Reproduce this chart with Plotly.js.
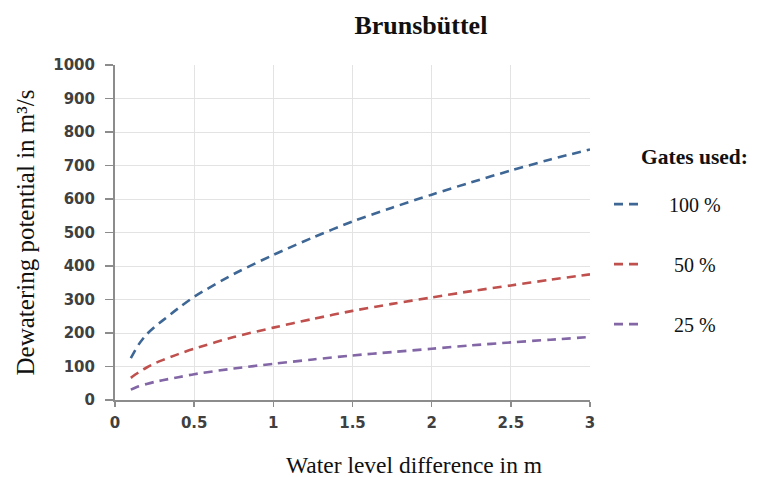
<!DOCTYPE html>
<html>
<head>
<meta charset="utf-8">
<script src="https://cdn.plot.ly/plotly-3.0.1.min.js"></script>
<style>html,body{margin:0;padding:0;background:#fff;}#chart{width:757px;height:477px;}</style>
</head>
<body>
<div id="chart"></div>
<script>
// Data
const waterLevelDiff = [0.1, 0.15, 0.2, 0.25, 0.3, 0.4, 0.5, 0.75, 1, 1.25, 1.5, 1.75, 2, 2.25, 2.5, 2.75, 3];
const gates100 = [125, 166, 196, 218, 237, 274, 308, 376, 433, 485, 533, 574, 613, 650, 685, 718, 748];
const gates50  = [66, 83, 97, 109, 119, 137, 153, 188, 216, 242, 266, 287, 306, 325, 342, 359, 375];
const gates25  = [31, 41, 48, 54, 59, 68, 77, 94, 108, 121, 133, 143, 153, 163, 172, 180, 188];
const seriesNames = ['100 %', '50 %', '25 %'];
const xTicks = [0, 0.5, 1, 1.5, 2, 2.5, 3];
const xTickLabels = ['0', '0.5', '1', '1.5', '2', '2.5', '3'];
const yTicks = [0, 100, 200, 300, 400, 500, 600, 700, 800, 900, 1000];

const colors = ['#3e6795', '#c0504d', '#8266a6'];
const seriesValues = [gates100, gates50, gates25];
const labelPad = ['\u00a0\u00a0\u00a0\u00a0', '\u00a0\u00a0\u00a0\u00a0\u00a0', '\u00a0\u00a0\u00a0\u00a0\u00a0'];

const traces = seriesValues.map((vals, i) => ({
  x: waterLevelDiff,
  y: vals,
  type: 'scatter',
  mode: 'lines',
  name: labelPad[i] + seriesNames[i],
  legendgroup: 'g' + i,
  line: {color: colors[i], width: 2.6, dash: '9px,6px', shape: 'spline', smoothing: 0.8},
  hoverinfo: 'skip'
}));

const serif = 'Liberation Serif, Times New Roman, serif';
const tickFont = {family: 'DejaVu Sans, Arial, sans-serif', size: 15, color: '#404040', weight: 'bold'};

const layout = {
  width: 757,
  height: 477,
  paper_bgcolor: '#ffffff',
  plot_bgcolor: '#ffffff',
  margin: {l: 115, r: 167, t: 65, b: 77},
  title: {
    text: '<b>Brunsbüttel</b>',
    font: {family: serif, size: 26, color: '#111'},
    xref: 'paper', x: 0.644, xanchor: 'center',
    yref: 'container', y: 0.947, yanchor: 'middle'
  },
  xaxis: {
    range: [0, 3],
    tickvals: xTicks,
    ticktext: xTickLabels,
    showgrid: true,
    gridcolor: '#e3e3e3',
    gridwidth: 1,
    zeroline: false,
    showline: true,
    linecolor: '#8c8c8c',
    linewidth: 2,
    ticks: 'outside',
    ticklen: 5,
    tickwidth: 1.5,
    tickcolor: '#8c8c8c',
    tickfont: tickFont,
    ticklabelstandoff: 3,
    fixedrange: true
  },
  yaxis: {
    range: [0, 1000],
    tickvals: yTicks,
    showgrid: true,
    gridcolor: '#e3e3e3',
    gridwidth: 1,
    zeroline: false,
    showline: true,
    linecolor: '#8c8c8c',
    linewidth: 2,
    ticks: 'outside',
    ticklen: 8,
    tickwidth: 1.5,
    tickcolor: '#8c8c8c',
    tickfont: tickFont,
    ticklabelstandoff: 7,
    title: {
      text: 'Dewatering potential in m³/s',
      font: {family: serif, size: 25, color: '#111'},
      standoff: 12
    },
    fixedrange: true
  },
  showlegend: true,
  legend: {
    x: 1.04, xanchor: 'left',
    y: 0.643, yanchor: 'top',
    traceorder: 'grouped',
    tracegroupgap: 31,
    itemwidth: 30,
    itemclick: false,
    itemdoubleclick: false,
    font: {family: serif, size: 20, color: '#111'},
    bgcolor: 'rgba(0,0,0,0)'
  },
  annotations: [
    {
      text: 'Water level difference in m',
      xref: 'paper', yref: 'paper',
      x: 0.63, y: -0.195,
      xanchor: 'center', yanchor: 'middle',
      showarrow: false,
      font: {family: serif, size: 23.5, color: '#111'}
    },
    {
      text: '<b>Gates used:</b>',
      xref: 'paper', yref: 'paper',
      x: 1.103, y: 0.725,
      xanchor: 'left', yanchor: 'middle',
      showarrow: false,
      font: {family: serif, size: 21.5, color: '#111'}
    }
  ]
};

Plotly.newPlot('chart', traces, layout, {displayModeBar: false, staticPlot: true});
</script>
</body>
</html>
